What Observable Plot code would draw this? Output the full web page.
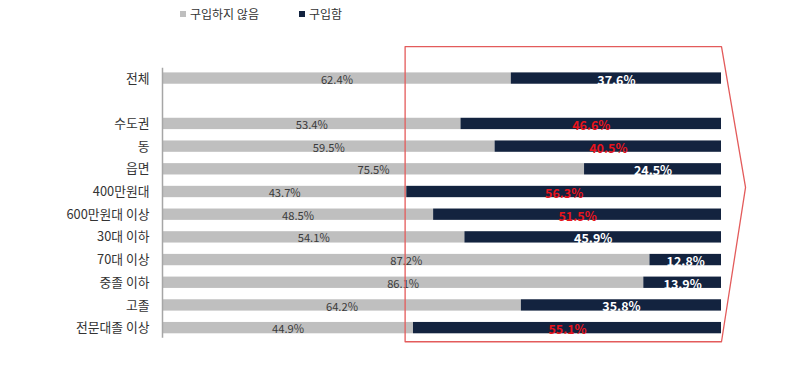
<!DOCTYPE html>
<html>
<head>
<meta charset="utf-8">
<script src="https://cdn.jsdelivr.net/npm/d3@7"></script>
<script src="https://cdn.jsdelivr.net/npm/@observablehq/plot@0.6"></script>
<style>
  body { margin: 0; background: #fff; font-family: "Noto Sans CJK KR", "Noto Sans", sans-serif; }
  #wrap { position: relative; width: 810px; height: 378px; }
  #legend { position: absolute; left: 180px; top: 5px; font-size: 12px; color: #333; display: flex; align-items: center; }
  #legend .sw { display: inline-block; width: 6px; height: 6px; margin-right: 4px; }
  #legend .item { display: flex; align-items: center; margin-right: 40px; }
</style>
</head>
<body>
<div id="wrap">
  <div id="chart"></div>
  <div id="legend"></div>
</div>
<script>
// Categories (blank string = spacer row)
const categories = ["전체", "", "수도권", "동", "읍면", "400만원대", "600만원대 이상", "30대 이하", "70대 이상", "중졸 이하", "고졸", "전문대졸 이상"];
const rowLabels = ["전체", "수도권", "동", "읍면", "400만원대", "600만원대 이상", "30대 이하", "70대 이상", "중졸 이하", "고졸", "전문대졸 이상"];
const notBuy = [62.4, 53.4, 59.5, 75.5, 43.7, 48.5, 54.1, 87.2, 86.1, 64.2, 44.9];
const buy    = [37.6, 46.6, 40.5, 24.5, 56.3, 51.5, 45.9, 12.8, 13.9, 35.8, 55.1];
const highlighted = ["수도권", "동", "400만원대", "600만원대 이상", "전문대졸 이상"];
const seriesNames = ["구입하지 않음", "구입함"];
const seriesColors = ["#bfbfbf", "#13233f"];
// Callout outline (percent on x, row position on y)
const calloutX = [43.4, 100, 104.3, 100, 43.4, 43.4];
const calloutY = [-1.41, -1.41, 4.8, 11.6, 11.6, -1.41];

const rows = rowLabels.map((c, i) => ({
  cat: c, pos: categories.indexOf(c), notBuy: notBuy[i], buy: buy[i], hi: highlighted.includes(c)
}));
const segs = rows.flatMap(r => [
  {cat: r.cat, pos: r.pos, series: seriesNames[0], x1: 0, x2: r.notBuy, v: r.notBuy, hi: r.hi},
  {cat: r.cat, pos: r.pos, series: seriesNames[1], x1: r.notBuy, x2: 100, v: r.buy, hi: r.hi}
]);
const callout = calloutX.map((x, i) => ({x, y: calloutY[i]}));
const half = 0.25;

const chart = Plot.plot({
  width: 810,
  height: 378,
  marginLeft: 162,
  marginRight: 89,
  marginTop: 10,
  marginBottom: 5,
  style: {fontFamily: '"Noto Sans CJK KR", "Noto Sans", sans-serif', background: "#fff"},
  x: {domain: [0, 100], axis: null},
  y: {domain: [-3, 13], reverse: true, axis: null},
  color: {domain: seriesNames, range: seriesColors},
  marks: [
    Plot.rect(segs, {x1: "x1", x2: "x2", y1: d => d.pos - half, y2: d => d.pos + half, fill: "series"}),
    Plot.ruleX([0], {y1: -0.45, y2: 11.45, stroke: "#a6a6a6", strokeWidth: 1.5}),
    Plot.text(rows, {x: 0, y: "pos", text: "cat", textAnchor: "end", dx: -13, fontSize: 12.8, fill: "#333"}),
    Plot.text(segs.filter(d => d.series === seriesNames[0]), {
      x: d => (d.x1 + d.x2) / 2, y: "pos", text: d => d.v.toFixed(1) + "%",
      fontSize: 11.2, fill: "#3a3a3a", dy: 1.5
    }),
    Plot.text(segs.filter(d => d.series === seriesNames[1]), {
      x: d => (d.x1 + d.x2) / 2, y: "pos", text: d => d.v.toFixed(1) + "%",
      fontSize: 12.5, fontWeight: "bold", fill: d => d.hi ? "#e8141c" : "#ffffff", dy: 2
    }),
    Plot.line(callout, {x: "x", y: "y", stroke: "#e35b5b", strokeWidth: 1.3})
  ]
});
document.getElementById("chart").appendChild(chart);

const legend = document.getElementById("legend");
seriesNames.forEach((n, i) => {
  const it = document.createElement("span");
  it.className = "item";
  it.innerHTML = `<span class="sw" style="background:${seriesColors[i]}"></span>${n}`;
  legend.appendChild(it);
});
</script>
</body>
</html>
